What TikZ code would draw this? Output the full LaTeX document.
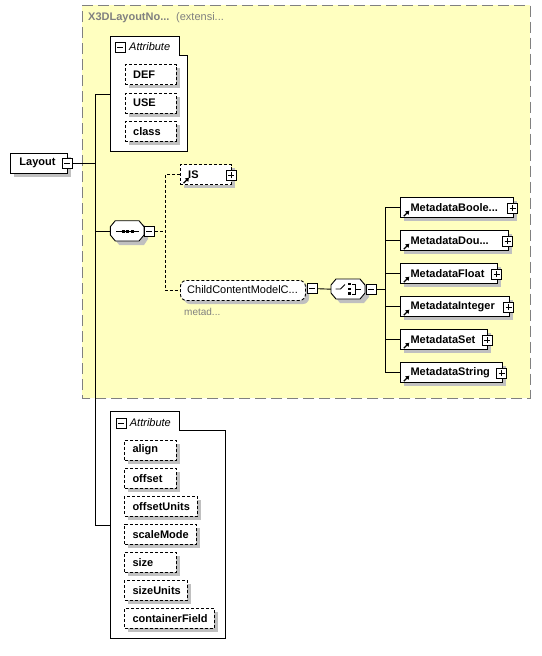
\documentclass[tikz,border=0pt]{standalone}
\usepackage{fontspec}
\setmainfont{Liberation Sans}
\usetikzlibrary{arrows.meta}
\definecolor{yel}{RGB}{255,255,192}
\definecolor{shad}{RGB}{192,192,192}
\definecolor{bord}{RGB}{128,128,128}
\tikzset{x=1pt,y=-1pt,
 elem/.style={draw=black, fill=white, line width=0.9pt, inner sep=0pt, anchor=north west, minimum height=20pt},
 optel/.style={elem, dash pattern=on 3pt off 2pt},
 lbl/.style={font=\bfseries\fontsize{11}{13}\selectfont, anchor=west, inner sep=0pt},
 conn/.style={line width=0.9pt},
 optconn/.style={conn, dash pattern=on 3pt off 2pt},
 pmbox/.style={draw=black, fill=white, line width=0.8pt, minimum size=10pt, inner sep=0pt, anchor=north west},
 refarrow/.style={line width=1.3pt, -{Triangle[length=3.5pt,width=4.5pt]}}
}
% name, x, y, width, text, style, text shift
\newcommand\xbox[7]{%
  \fill[shad] (#2+4,#3+4) rectangle ++(#4,20);
  \node[#6, minimum width=#4pt] (#1) at (#2,#3) {};
  \node[lbl] at ([xshift=#7pt]#1.west) {#5};
}
\newcommand\plusbox[3]{%
  \node[pmbox] (#1) at (#2,#3) {};
  \draw[line width=0.8pt] ([xshift=-3pt]#1.center) -- ([xshift=3pt]#1.center)
     ([yshift=-3pt]#1.center) -- ([yshift=3pt]#1.center);
}
\newcommand\minusbox[3]{%
  \node[pmbox] (#1) at (#2,#3) {};
  \draw[line width=0.8pt] ([xshift=-3pt]#1.center) -- ([xshift=3pt]#1.center);
}
\newcommand\refarr[1]{%
  \draw[refarrow] ([xshift=3.5pt,yshift=2pt]#1.south west) -- ([xshift=9pt,yshift=7.5pt]#1.south west);
}
\begin{document}
\begin{tikzpicture}
\useasboundingbox (0,0) rectangle (541,656);
% extension area
\fill[yel] (82.3,5.3) rectangle (530,398);
\draw[bord, line width=0.9pt, dash pattern=on 11pt off 5pt] (82.3,5.3) -- (530,5.3) -- (530,398) -- (82.3,398) -- cycle;
\node[anchor=west, inner sep=0pt, text=bord, font=\bfseries\fontsize{11}{13}\selectfont] (ttl) at (88,18) {X3DLayoutNo...};
\node[anchor=west, inner sep=0pt, text=bord, font=\fontsize{11}{13}\selectfont] (ttl2) at (176,18) {(extensi...};

% Attribute group 1
\draw[fill=white, line width=0.9pt] (110.3,36.3) -- (179,36.3) -- (179,55) -- (187.7,55) -- (187.7,151) -- (110.3,151) -- cycle;
\coordinate (att1) at (110.3,94.3);
\minusbox{am1}{115}{41.7}
\node[anchor=west, inner sep=0pt, font=\itshape\fontsize{11}{13}\selectfont] (at1) at (129,46.7) {Attribute};
\xbox{def}{125}{64.3}{50.7}{DEF}{optel}{8}
\xbox{use}{125}{92.7}{50.7}{USE}{optel}{8}
\xbox{cls}{125}{120.7}{50.7}{class}{optel}{8}

% Layout
\xbox{layout}{10.3}{152.7}{56.4}{Layout}{elem}{9}
\minusbox{lmin}{61.7}{158.3}
\coordinate (tr) at (95.7,0);

% Sequence
\fill[shad] (119.3,224.7) -- (144,224.7) -- (148,230.7) -- (148,239) -- (144,245) -- (119.3,245) -- (114.3,239) -- (114.3,230.7) -- cycle;
\node[anchor=north west, inner sep=0pt, minimum width=33.7pt, minimum height=20.3pt] (seq) at (110.3,220.7) {};
\draw[fill=white, line width=0.9pt] (115.3,220.7) -- (139,220.7) -- (144,226.7) -- (144,235) -- (139,241) -- (115.3,241) -- (110.3,235) -- (110.3,226.7) -- cycle;
\draw[line width=0.9pt] (116,231) -- (138.5,231);
\foreach \sx in {121.5,126,130.5} \fill (\sx,229.5) rectangle ++(3,3);
\minusbox{smin}{144}{226}

% IS
\xbox{is}{180}{164.3}{50.7}{IS}{optel}{8}
\plusbox{isp}{225.7}{170}
\refarr{is}

% ChildContentModel
\fill[shad, rounded corners=6pt] (184,284) rectangle ++(125,20);
\node[optel, rounded corners=6pt, minimum width=125pt] (ccm) at (180,280) {};
\node[anchor=west, inner sep=0pt, font=\fontsize{11}{13}\selectfont] (ccmt) at (187,290) {ChildContentModelC...};
\node[anchor=west, inner sep=0pt, text=bord, font=\fontsize{10}{12}\selectfont] (ccmd) at (184,311.5) {metad...};
\minusbox{cmin}{306.7}{283.3}

% Choice
\fill[shad] (340,283) -- (364,283) -- (369,289) -- (369,297) -- (364,303) -- (340,303) -- (335,297) -- (335,289) -- cycle;
\node[anchor=north west, inner sep=0pt, minimum width=34pt, minimum height=20pt] (cho) at (331,279) {};
\draw[fill=white, line width=0.9pt] (336,279) -- (360,279) -- (365,285) -- (365,293) -- (360,299) -- (336,299) -- (331,293) -- (331,285) -- cycle;
\draw[line width=0.9pt] (335.5,289) -- (340.5,289) -- (345,284.5);
\foreach \sy in {282.7,287.5,292.3} \fill (347.5,\sy) rectangle ++(3,2.6);
\draw[line width=0.9pt] (352,284.5) -- (355,284.5) -- (355,294) -- (352,294) (355,289) -- (360.5,289);
\minusbox{chmin}{366}{284}
\coordinate (ct) at (385.3,0);

% Metadata children
\xbox{m1}{400.3}{197.3}{112.4}{MetadataBoole...}{elem}{10}
\plusbox{m1p}{507.3}{202.6}
\xbox{m2}{400.3}{230.3}{107.4}{MetadataDou...}{elem}{10}
\plusbox{m2p}{502.3}{235.6}
\xbox{m3}{400.3}{263.3}{96.4}{MetadataFloat}{elem}{10}
\plusbox{m3p}{491.3}{268.6}
\xbox{m4}{400.3}{296.3}{108.4}{MetadataInteger}{elem}{10}
\plusbox{m4p}{503.3}{301.6}
\xbox{m5}{400.3}{329.3}{87}{MetadataSet}{elem}{10}
\plusbox{m5p}{482}{334.6}
\xbox{m6}{400.3}{362.3}{101.4}{MetadataString}{elem}{10}
\plusbox{m6p}{496.3}{367.6}
\foreach \m in {m1,m2,m3,m4,m5,m6} {\refarr{\m}}

% Attribute group 2
\draw[fill=white, line width=0.9pt] (110,411.7) -- (179,411.7) -- (179,430.3) -- (225.3,430.3) -- (225.3,638.3) -- (110,638.3) -- cycle;
\coordinate (att2) at (110,525);
\minusbox{am2}{115.7}{417.7}
\node[anchor=west, inner sep=0pt, font=\itshape\fontsize{11}{13}\selectfont] (at2) at (129.7,422.7) {Attribute};
\xbox{al}{124.3}{439.7}{51.7}{align}{optel}{8}
\xbox{of}{124.3}{467.7}{51.7}{offset}{optel}{8}
\xbox{ou}{124.3}{495.7}{72.4}{offsetUnits}{optel}{8}
\xbox{sm}{124.3}{523.7}{71.4}{scaleMode}{optel}{8}
\xbox{sz}{124.3}{551.7}{51.7}{size}{optel}{8}
\xbox{su}{124.3}{579.7}{62.4}{sizeUnits}{optel}{8}
\xbox{cf}{124.3}{607.7}{89.4}{containerField}{optel}{8}

% connectors
\draw[conn] (att1) -- (att1 -| tr) -- (att2 -| tr) -- (att2);
\draw[conn] (lmin.east) -- (lmin.east -| tr);
\draw[conn] (seq.west) -- (seq.west -| tr);
\draw[optconn] (smin.east) -- ++(10.3,0) coordinate (sv);
\draw[optconn] (is.west) -| (sv) |- (ccm.west);
\draw[conn] (cmin.east) -- (cho.west);
\draw[conn] (chmin.east) -- (chmin.east -| ct);
\draw[conn] (m1.west) -- (m1.west -| ct) -- (m6.west -| ct) -- (m6.west);
\foreach \m in {m2,m3,m4,m5} {\draw[conn] (\m.west) -- (\m.west -| ct);}
\end{tikzpicture}
\end{document}
